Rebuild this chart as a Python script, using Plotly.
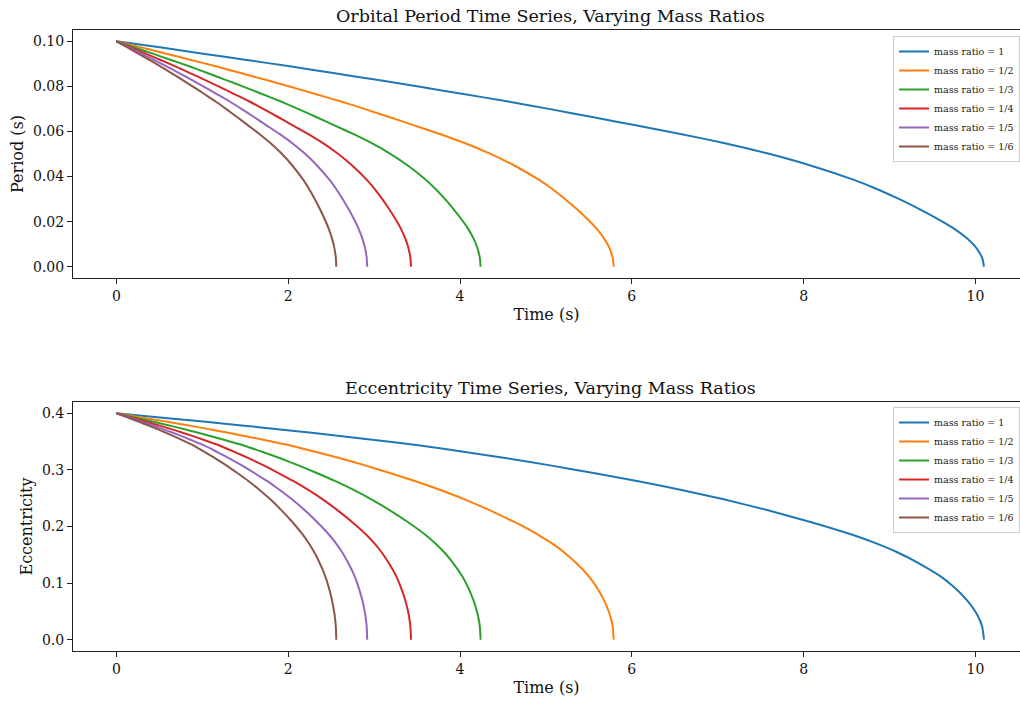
import plotly.graph_objects as go

# ---- data ----
labels = ["mass ratio = 1", "mass ratio = 1/2", "mass ratio = 1/3",
          "mass ratio = 1/4", "mass ratio = 1/5", "mass ratio = 1/6"]
colors = ["#1f77b4", "#ff7f0e", "#2ca02c", "#d62728", "#9467bd", "#8c564b"]

# period (s) and eccentricity levels at the sampled times (same levels for every curve)
period_levels = [0.1, 0.0973, 0.0945, 0.0917, 0.0889, 0.0859, 0.0829, 0.0798, 0.0766, 0.0734,
                 0.0699, 0.0663, 0.0626, 0.0589, 0.0549, 0.0503, 0.0449, 0.0385, 0.0347, 0.0304,
                 0.0257, 0.0205, 0.0170, 0.0127, 0.0089, 0.0061, 0.0038, 0.0]
ecc_levels = [0.4, 0.3928, 0.3854, 0.3778, 0.3698, 0.3614, 0.3525, 0.3432, 0.332, 0.3205,
              0.308, 0.2945, 0.2805, 0.2650, 0.2480, 0.2290, 0.2080, 0.1845, 0.1705, 0.1545,
              0.1350, 0.1118, 0.0934, 0.0704, 0.0498, 0.0352, 0.0223, 0.0]

time_q1 = [0, 0.505, 1.01, 1.515, 2.02, 2.525, 3.03, 3.535, 4.04, 4.545, 5.05, 5.555, 6.06,
           6.565, 7.07, 7.575, 8.08, 8.585, 8.8375, 9.09, 9.3425, 9.595, 9.7465, 9.898,
           9.999, 10.0495, 10.0798, 10.10]
time_q2 = [0, 0.2895, 0.579, 0.8685, 1.158, 1.4475, 1.737, 2.0265, 2.316, 2.6055, 2.895,
           3.1845, 3.474, 3.7635, 4.053, 4.3425, 4.632, 4.9215, 5.0663, 5.211, 5.3558,
           5.5005, 5.5874, 5.6742, 5.7321, 5.7611, 5.7784, 5.79]
time_q3 = [0, 0.212, 0.424, 0.636, 0.848, 1.06, 1.272, 1.484, 1.696, 1.908, 2.12, 2.332,
           2.544, 2.756, 2.968, 3.18, 3.392, 3.604, 3.71, 3.816, 3.922, 4.028, 4.0916,
           4.1552, 4.1976, 4.2188, 4.2315, 4.24]
time_q4 = [0, 0.1715, 0.343, 0.5145, 0.686, 0.8575, 1.029, 1.2005, 1.372, 1.5435, 1.715,
           1.8865, 2.058, 2.2295, 2.401, 2.5725, 2.744, 2.9155, 3.0013, 3.087, 3.1728,
           3.2585, 3.31, 3.3614, 3.3957, 3.4129, 3.4231, 3.43]
time_q5 = [0, 0.146, 0.292, 0.438, 0.584, 0.73, 0.876, 1.022, 1.168, 1.314, 1.46, 1.606,
           1.752, 1.898, 2.044, 2.19, 2.336, 2.482, 2.555, 2.628, 2.701, 2.774, 2.8178,
           2.8616, 2.8908, 2.9054, 2.9142, 2.92]
time_q6 = [0, 0.128, 0.256, 0.384, 0.512, 0.64, 0.768, 0.896, 1.024, 1.152, 1.28, 1.408,
           1.536, 1.664, 1.792, 1.92, 2.048, 2.176, 2.24, 2.304, 2.368, 2.432, 2.4704,
           2.5088, 2.5344, 2.5472, 2.5549, 2.56]
times = [time_q1, time_q2, time_q3, time_q4, time_q5, time_q6]

x_ticks = [0, 2, 4, 6, 8, 10]
period_ticks = [0.0, 0.02, 0.04, 0.06, 0.08, 0.10]
ecc_ticks = [0.0, 0.1, 0.2, 0.3, 0.4]

FONT = "DejaVu Serif"
W, H = 1020, 702
L = 73

fig = go.Figure()
for t, lab, c in zip(times, labels, colors):
    fig.add_trace(go.Scatter(x=t, y=period_levels, mode="lines", name=lab,
                             line=dict(color=c, width=2, shape="spline", smoothing=0.5),
                             xaxis="x", yaxis="y", legend="legend"))
for t, lab, c in zip(times, labels, colors):
    fig.add_trace(go.Scatter(x=t, y=ecc_levels, mode="lines", name=lab,
                             line=dict(color=c, width=2, shape="spline", smoothing=0.5),
                             xaxis="x2", yaxis="y2", legend="legend2"))

def py(p):
    return (H - p) / H

axis_common = dict(showline=True, linecolor="#222222", linewidth=1, ticks="outside",
                   ticklen=5, tickwidth=1, tickcolor="#222222", showgrid=False,
                   zeroline=False, tickfont=dict(family=FONT, size=14, color="#111111"))

xr = [-0.505, 10.519]
LEG_X = (893 - L) / (W - L)
fig.update_layout(
    width=W, height=H,
    margin=dict(l=L, r=0, t=0, b=0, autoexpand=False),
    plot_bgcolor="white", paper_bgcolor="white",
    font=dict(family=FONT, color="#111111"),
    xaxis=dict(domain=[0, 1], anchor="y", range=xr, tickvals=x_ticks, mirror=True,
               title=dict(text="Time (s)", font=dict(family=FONT, size=16), standoff=6),
               **axis_common),
    yaxis=dict(domain=[py(278), py(30)], anchor="x", range=[-0.005, 0.105],
               tickvals=period_ticks, tickformat=".2f",
               title=dict(text="Period (s)", font=dict(family=FONT, size=16), standoff=5),
               **axis_common),
    xaxis2=dict(domain=[0, 1], anchor="y2", range=xr, tickvals=x_ticks, mirror=True,
                title=dict(text="Time (s)", font=dict(family=FONT, size=16), standoff=6),
                **axis_common),
    yaxis2=dict(domain=[py(651), py(402)], anchor="x2", range=[-0.02, 0.42],
                tickvals=ecc_ticks, tickformat=".1f",
                title=dict(text="Eccentricity", font=dict(family=FONT, size=16), standoff=5),
                **axis_common),
    legend=dict(x=LEG_X, y=py(36), xanchor="left", yanchor="top",
                bgcolor="rgba(255,255,255,0.8)", bordercolor="#cccccc", borderwidth=1,
                font=dict(family=FONT, size=9.5, color="#222222")),
    legend2=dict(x=LEG_X, y=py(407), xanchor="left", yanchor="top",
                 bgcolor="rgba(255,255,255,0.8)", bordercolor="#cccccc", borderwidth=1,
                 font=dict(family=FONT, size=9.5, color="#222222")),
    annotations=[
        dict(text="Orbital Period Time Series, Varying Mass Ratios", xref="paper",
             yref="paper", x=(550 - L) / (W - L), y=py(16), xanchor="center",
             yanchor="middle", showarrow=False, font=dict(family=FONT, size=17.5)),
        dict(text="Eccentricity Time Series, Varying Mass Ratios", xref="paper",
             yref="paper", x=(550 - L) / (W - L), y=py(388), xanchor="center",
             yanchor="middle", showarrow=False, font=dict(family=FONT, size=17.5)),
    ],
)

fig.write_html("out.html")
